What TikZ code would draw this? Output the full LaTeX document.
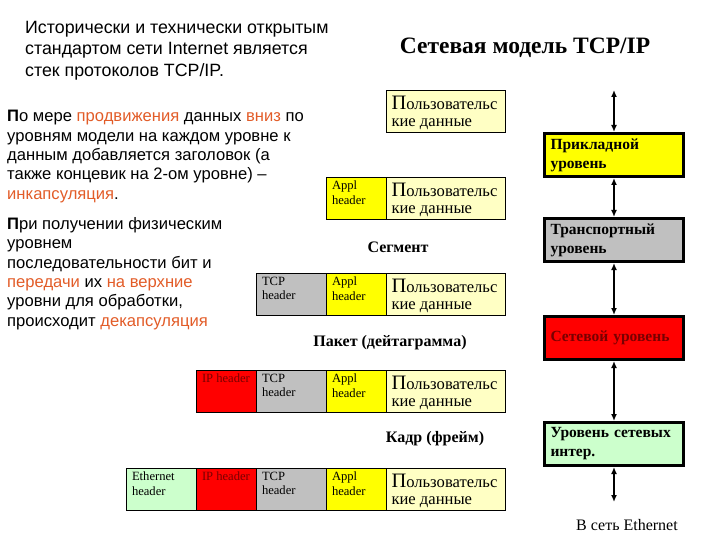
\documentclass[tikz,border=0pt]{standalone}
\usepackage{fontspec}
\setmainfont{Liberation Serif}
\setsansfont{Liberation Sans}
\usepackage{tikz}
\usetikzlibrary{arrows.meta,positioning}

\definecolor{datafill}{RGB}{255,255,196}
\definecolor{applfill}{RGB}{255,255,0}
\definecolor{tcpfill}{RGB}{192,192,192}
\definecolor{ipfill}{RGB}{255,0,0}
\definecolor{ethfill}{RGB}{204,255,204}
\definecolor{hilite}{RGB}{226,92,40}
\definecolor{iptext}{RGB}{120,0,0}

\newcommand{\hlword}[1]{\textcolor{hilite}{#1}}
\newcommand{\celltext}[2]{\parbox[c][34pt][t]{#1}{#2}}
\newcommand{\userdata}{\celltext{108pt}{\vspace*{2pt}{\fontsize{20.5}{17}\selectfont П}ользовательс\\кие данные}}

\begin{document}
\begin{tikzpicture}[
    x=1pt, y=-1pt,
    txt/.style={align=left, anchor=north west, inner sep=0pt, font=\fontsize{16.6}{19.4}\selectfont\sffamily},
    cell/.style={draw, line width=0.8pt, outer sep=0pt, inner xsep=6pt, inner ysep=4pt, font=\fontsize{12.6}{14.5}\selectfont},
    datacell/.style={cell, inner xsep=5.5pt, fill=datafill, font=\fontsize{16.6}{17.5}\selectfont},
    applcell/.style={cell, fill=applfill},
    tcpcell/.style={cell, fill=tcpfill},
    ipcell/.style={cell, fill=ipfill, text=iptext},
    ethcell/.style={cell, fill=ethfill},
    layer/.style={draw, line width=3pt, minimum width=139pt, minimum height=43pt, text width=127pt, inner xsep=6pt, align=left, font=\fontsize{15.5}{19}\selectfont\bfseries},
    lbl/.style={font=\fontsize{16}{18}\selectfont\bfseries},
    dblarrow/.style={{Latex[length=7pt,width=6pt]}-{Latex[length=7pt,width=6pt]}, line width=1.6pt}
  ]
    \useasboundingbox (0,0) rectangle (720,540);

    % texts on the left
    \node[txt, font=\fontsize{17.8}{21.3}\selectfont\sffamily] (intro) at (25,21) {Исторически и технически открытым\\стандартом сети Internet является\\стек протоколов TCP/IP.};
    \node[txt] (encap) at (7,110) {\textbf{П}о мере \hlword{продвижения} данных \hlword{вниз} по\\уровням модели на каждом уровне к\\данным добавляется заголовок (а\\также концевик на 2-ом уровне) --\\\hlword{инкапсуляция}.};
    \node[txt] (decap) at (7,217) {\textbf{П}ри получении физическим\\уровнем\\последовательности бит и\\\hlword{передачи} их \hlword{на верхние}\\уровни для обработки,\\происходит \hlword{декапсуляция}};

    \node[font=\fontsize{23.5}{27}\selectfont\bfseries] (title) at (525,48) {Сетевая модель TCP/IP};

    % encapsulated units
    \node[datacell, anchor=north west] (d1) at (386,90) {\userdata};

    \node[datacell, anchor=north west] (d2) at (386,177) {\userdata};
    \node[applcell, left=0pt of d2] (a2) {\celltext{48pt}{Appl\\header}};

    \node[lbl] (seglbl) at (398,247) {Сегмент};
    \node[datacell, anchor=north west] (d3) at (386,273) {\userdata};
    \node[applcell, left=0pt of d3] (a3) {\celltext{48pt}{Appl\\header}};
    \node[tcpcell, left=0pt of a3] (t3) {\celltext{58pt}{TCP\\header}};

    \node[lbl] (pktlbl) at (390,343) {Пакет (дейтаграмма)};
    \node[datacell, anchor=north west] (d4) at (386,370) {\userdata};
    \node[applcell, left=0pt of d4] (a4) {\celltext{48pt}{Appl\\header}};
    \node[tcpcell, left=0pt of a4] (t4) {\celltext{58pt}{TCP\\header}};
    \node[ipcell, left=0pt of t4] (i4) {\celltext{48pt}{IP header}};

    \node[lbl] (frmlbl) at (435,439) {Кадр (фрейм)};
    \node[datacell, anchor=north west] (d5) at (386,468) {\userdata};
    \node[applcell, left=0pt of d5] (a5) {\celltext{48pt}{Appl\\header}};
    \node[tcpcell, left=0pt of a5] (t5) {\celltext{58pt}{TCP\\header}};
    \node[ipcell, left=0pt of t5] (i5) {\celltext{48pt}{IP header}};
    \node[ethcell, left=0pt of i5] (e5) {\celltext{58pt}{Ethernet\\header}};

    % protocol layers
    \coordinate (top) at (614,90);
    \node[layer, fill=applfill] (app) at (614,155) {Прикладной\\уровень};
    \node[layer, fill=tcpfill, below=39pt of app] (trans) {Транспортный\\уровень};
    \node[layer, fill=ipfill, text=iptext, below=52pt of trans] (net) {Сетевой уровень};
    \node[layer, fill=ethfill, below=60pt of net] (link) {Уровень сетевых\\интер.};
    \coordinate (bot) at (614,502);
    \node[font=\fontsize{16}{18}\selectfont] (ethnet) at (627,525) {В сеть Ethernet};

    \draw[dblarrow] (top) -- (app);
    \draw[dblarrow] (app) -- (trans);
    \draw[dblarrow] (trans) -- (net);
    \draw[dblarrow] (net) -- (link);
    \draw[dblarrow] (link) -- (bot);
\end{tikzpicture}
\end{document}
